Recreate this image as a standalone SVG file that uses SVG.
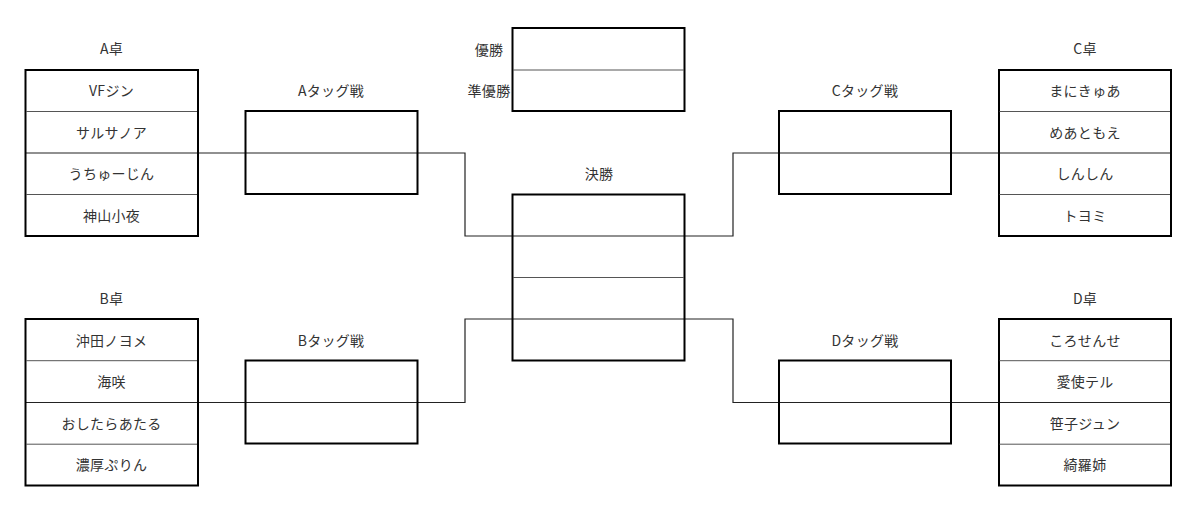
<svg xmlns="http://www.w3.org/2000/svg" width="1200" height="513" viewBox="0 0 1200 513">
<style>
.bx{fill:none;stroke:#000;stroke-width:2}
.dv{stroke:#555;stroke-width:1}
.cn{fill:none;stroke:#222;stroke-width:1.2}
text{font-family:"Noto Sans CJK JP","Noto Sans",sans-serif;font-size:14px;fill:#333;text-anchor:middle;letter-spacing:0.3px}
</style>
<rect width="1200" height="513" fill="#fff"/>
<g id="connectors">
<polyline class="cn" points="26,153 465,153 465,236 733,236 733,153 1170,153"/>
<polyline class="cn" points="26,402.5 465,402.5 465,319 733,319 733,402.5 1170,402.5"/>
</g>
<g id="tableA">
<text x="111.5" y="54">A卓</text>
<rect class="bx" x="25.5" y="70" width="172.5" height="166"/>
<line class="dv" x1="26" y1="111.5" x2="197" y2="111.5"/>
<line class="dv" x1="26" y1="194.5" x2="197" y2="194.5"/>
<text x="111.5" y="96">VFジン</text>
<text x="111.5" y="137.5">サルサノア</text>
<text x="111.5" y="179">うちゅーじん</text>
<text x="111.5" y="220.5">神山小夜</text>
</g>
<g id="tableB">
<text x="111.5" y="304">B卓</text>
<rect class="bx" x="25.5" y="319" width="172.5" height="166.5"/>
<line class="dv" x1="26" y1="360.7" x2="197" y2="360.7"/>
<line class="dv" x1="26" y1="444.2" x2="197" y2="444.2"/>
<text x="111.5" y="345.5">沖田ノヨメ</text>
<text x="111.5" y="387">海咲</text>
<text x="111.5" y="428.5">おしたらあたる</text>
<text x="111.5" y="470">濃厚ぷりん</text>
</g>
<g id="tableC">
<text x="1085" y="54">C卓</text>
<rect class="bx" x="999" y="70" width="172" height="166"/>
<line class="dv" x1="999.5" y1="111.5" x2="1170" y2="111.5"/>
<line class="dv" x1="999.5" y1="194.5" x2="1170" y2="194.5"/>
<text x="1085" y="96">まにきゅあ</text>
<text x="1085" y="137.5">めあともえ</text>
<text x="1085" y="179">しんしん</text>
<text x="1085" y="220.5">トヨミ</text>
</g>
<g id="tableD">
<text x="1085" y="304">D卓</text>
<rect class="bx" x="999" y="319" width="172" height="166.5"/>
<line class="dv" x1="999.5" y1="360.7" x2="1170" y2="360.7"/>
<line class="dv" x1="999.5" y1="444.2" x2="1170" y2="444.2"/>
<text x="1085" y="345.5">ころせんせ</text>
<text x="1085" y="387">愛使テル</text>
<text x="1085" y="428.5">笹子ジュン</text>
<text x="1085" y="470">綺羅姉</text>
</g>
<g id="tagA">
<text x="331" y="96">Aタッグ戦</text>
<rect class="bx" x="245.5" y="111" width="172" height="83"/>
</g>
<g id="tagB">
<text x="331" y="345.5">Bタッグ戦</text>
<rect class="bx" x="245.5" y="360.5" width="172" height="83"/>
</g>
<g id="tagC">
<text x="865" y="96">Cタッグ戦</text>
<rect class="bx" x="779" y="111" width="172" height="83"/>
</g>
<g id="tagD">
<text x="865" y="345.5">Dタッグ戦</text>
<rect class="bx" x="779" y="360.5" width="172" height="83"/>
</g>
<g id="final">
<text x="599" y="179">決勝</text>
<rect class="bx" x="512.5" y="194.5" width="172" height="166"/>
<line class="dv" x1="513" y1="277.5" x2="684" y2="277.5"/>
</g>
<g id="result">
<text x="489" y="54.5">優勝</text>
<text x="489" y="96">準優勝</text>
<rect class="bx" x="512.5" y="28" width="172" height="83"/>
<line class="dv" x1="513" y1="70" x2="684" y2="70"/>
</g>
</svg>
